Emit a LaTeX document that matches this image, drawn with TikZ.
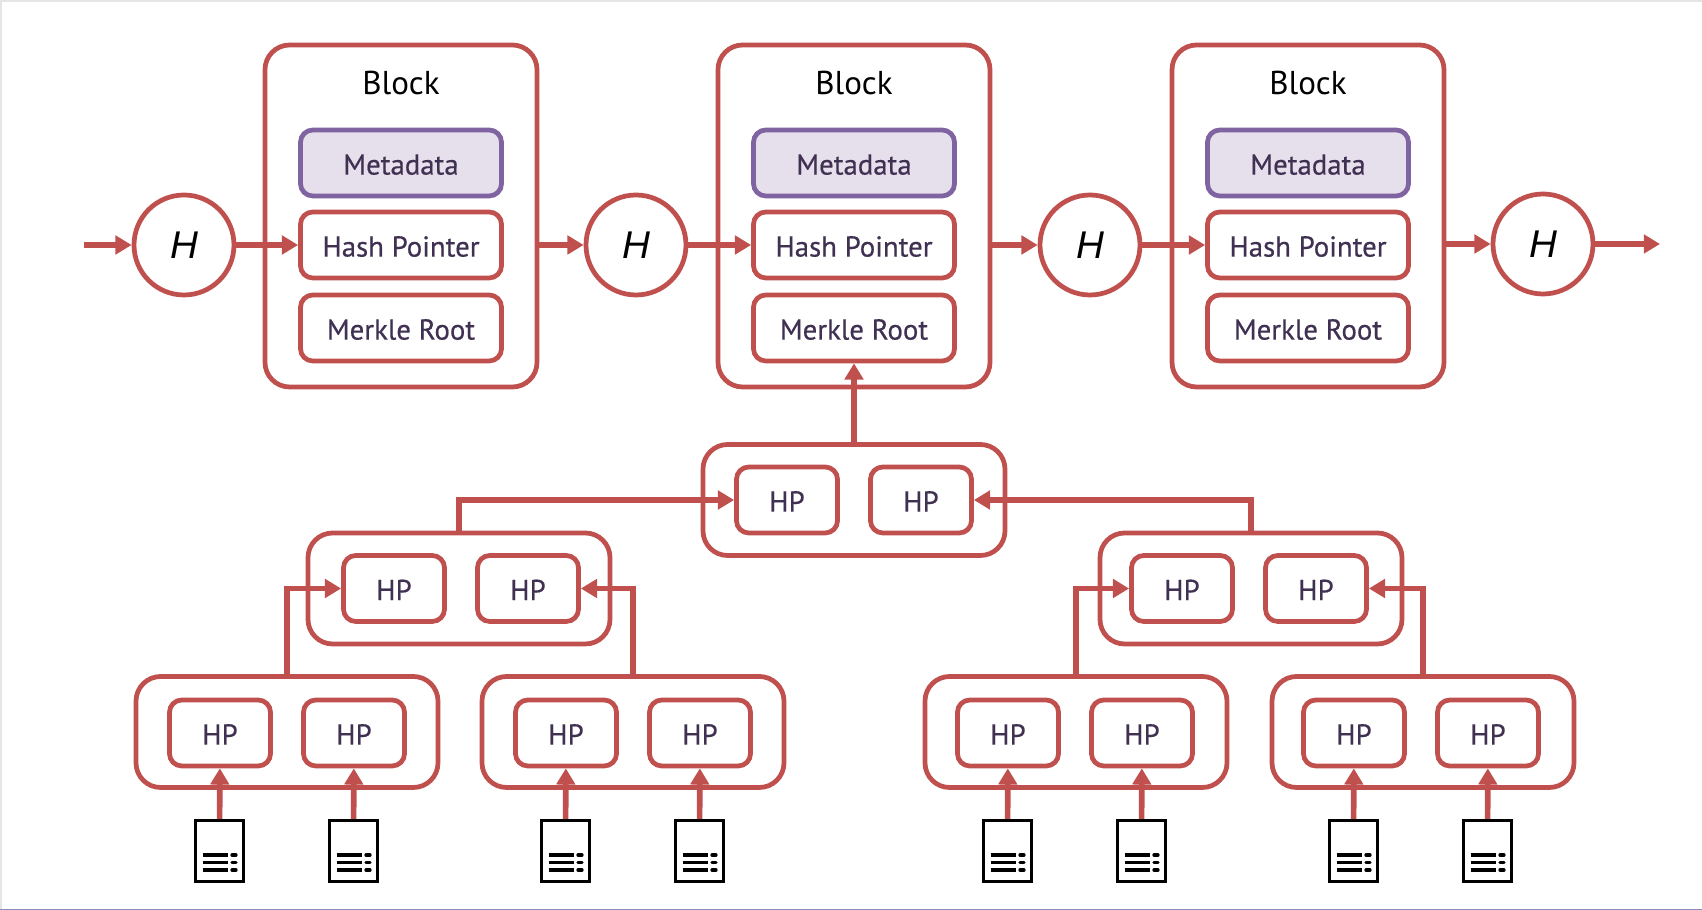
\documentclass[tikz,border=0pt]{standalone}
\usepackage{fontspec}
\setmainfont{PT Sans}
\newfontfamily\hashfont{Liberation Sans}
\newfontfamily\fieldfont[FakeBold=0.45]{PT Sans}
\usetikzlibrary{arrows.meta}
\definecolor{chainred}{HTML}{C0504D}
\definecolor{metaline}{HTML}{8064A2}
\definecolor{metafill}{HTML}{E6E0EC}
\definecolor{labeltext}{HTML}{403152}
\tikzset{
    blockbox/.style={draw=chainred, line width=1.35pt, rounded corners=7pt, minimum width=2.72cm, minimum height=3.42cm},
    fieldbox/.style={draw=chainred, line width=1.35pt, rounded corners=3.5pt, minimum width=2.01cm, minimum height=0.66cm, inner sep=0pt, text=labeltext, text height=6.6pt, text depth=0pt, font=\fieldfont\fontsize{8.2}{10}\selectfont},
    metabox/.style={fieldbox, draw=metaline, fill=metafill},
    hpbox/.style={fieldbox, minimum width=1.01cm},
    pairbox/.style={draw=chainred, line width=1.35pt, rounded corners=7pt, minimum width=3.02cm, minimum height=1.11cm},
    hashnode/.style={circle, draw=chainred, line width=1.35pt, minimum size=1cm, inner sep=0pt, fill=white, font=\hashfont\itshape\fontsize{11}{13}\selectfont},
    blocklabel/.style={font=\fontsize{9.4}{11}\selectfont},
    link/.style={draw=chainred, line width=1.6pt, -{Triangle[length=4.6pt, width=5.2pt]}},
    docicon/.style={draw=black, line width=0.9pt, minimum width=0.48cm, minimum height=0.61cm, inner sep=0pt, path picture={
        \foreach \rowy in {-0.04,-0.115,-0.19}{
            \draw[black, line width=0.95pt] ([xshift=0.07cm, yshift=\rowy cm]path picture bounding box.west) -- ++(0.25,0);
            \draw[black, line width=0.95pt, line cap=round] ([xshift=-0.115cm, yshift=\rowy cm]path picture bounding box.east) -- ++(0.04,0);
        }}},
}
\begin{document}
\begin{tikzpicture}
    \useasboundingbox (0,0) rectangle (17.02,-9.10);
    % screenshot edges
    \fill[gray!20] (0,0) rectangle (17.02,-0.02);
    \fill[gray!20] (0,0) rectangle (0.02,-9.10);
    \fill[gray!70!blue!70] (0,-9.09) rectangle (17.02,-9.10);
    % blocks
    \node[blockbox] (block1) at (4.01,-2.16) {};
    \node[blockbox] (block2) at (8.54,-2.16) {};
    \node[blockbox] (block3) at (13.08,-2.16) {};
    \node[blocklabel] (title1) at (4.01,-0.83) {Block};
    \node[blocklabel] (title2) at (8.54,-0.83) {Block};
    \node[blocklabel] (title3) at (13.08,-0.83) {Block};
    \node[metabox] (meta1) at (4.01,-1.63) {Metadata};
    \node[metabox] (meta2) at (8.54,-1.63) {Metadata};
    \node[metabox] (meta3) at (13.08,-1.63) {Metadata};
    \node[fieldbox] (hash1) at (4.01,-2.45) {Hash Pointer};
    \node[fieldbox] (hash2) at (8.54,-2.45) {Hash Pointer};
    \node[fieldbox] (hash3) at (13.08,-2.45) {Hash Pointer};
    \node[fieldbox] (root1) at (4.01,-3.28) {Merkle Root};
    \node[fieldbox] (root2) at (8.54,-3.28) {Merkle Root};
    \node[fieldbox] (root3) at (13.08,-3.28) {Merkle Root};
    % hash circles
    \node[hashnode] (H1) at (1.84,-2.45) {H};
    \node[hashnode] (H2) at (6.36,-2.45) {H};
    \node[hashnode] (H3) at (10.90,-2.45) {H};
    \node[hashnode] (H4) at (15.43,-2.44) {H};
    \coordinate (chainin) at (0.84,-2.45);
    \coordinate (chainout) at (16.60,-2.44);
    % chain
    \draw[link] (chainin) -- (H1);
    \draw[link] (H1) -- (hash1);
    \draw[link] (block1.east |- H2) -- (H2);
    \draw[link] (H2) -- (hash2);
    \draw[link] (block2.east |- H3) -- (H3);
    \draw[link] (H3) -- (hash3);
    \draw[link] (block3.east |- H4) -- (H4);
    \draw[link] (H4) -- (chainout);
    % merkle tree, top
    \node[pairbox] (top) at (8.54,-5.00) {};
    \node[hpbox] (topl) at (7.87,-5.00) {HP};
    \node[hpbox] (topr) at (9.21,-5.00) {HP};
    \node[pairbox] (midl) at (4.59,-5.885) {};
    \node[hpbox] (midll) at (3.94,-5.885) {HP};
    \node[hpbox] (midlr) at (5.28,-5.885) {HP};
    \node[pairbox] (midr) at (12.51,-5.885) {};
    \node[hpbox] (midrl) at (11.82,-5.885) {HP};
    \node[hpbox] (midrr) at (13.16,-5.885) {HP};
    % merkle tree, leaves
    \node[pairbox] (leafa) at (2.87,-7.32) {};
    \node[hpbox] (leafal) at (2.20,-7.33) {HP};
    \node[hpbox] (leafar) at (3.54,-7.33) {HP};
    \node[pairbox] (leafb) at (6.33,-7.32) {};
    \node[hpbox] (leafbl) at (5.66,-7.33) {HP};
    \node[hpbox] (leafbr) at (7.00,-7.33) {HP};
    \node[pairbox] (leafc) at (10.76,-7.32) {};
    \node[hpbox] (leafcl) at (10.08,-7.33) {HP};
    \node[hpbox] (leafcr) at (11.42,-7.33) {HP};
    \node[pairbox] (leafd) at (14.23,-7.32) {};
    \node[hpbox] (leafdl) at (13.54,-7.33) {HP};
    \node[hpbox] (leafdr) at (14.88,-7.33) {HP};
    % documents
    \node[docicon] (docal) at (2.195,-8.51) {};
    \node[docicon] (docar) at (3.535,-8.51) {};
    \node[docicon] (docbl) at (5.655,-8.51) {};
    \node[docicon] (docbr) at (6.995,-8.51) {};
    \node[docicon] (doccl) at (10.075,-8.51) {};
    \node[docicon] (doccr) at (11.415,-8.51) {};
    \node[docicon] (docdl) at (13.535,-8.51) {};
    \node[docicon] (docdr) at (14.875,-8.51) {};
    % tree links
    \draw[link] (top.north) -- (root2.south);
    \draw[link] (midl.north) |- (topl.west);
    \draw[link] (midr.north) |- (topr.east);
    \draw[link] (leafa.north) |- (midll.west);
    \draw[link] (leafb.north) |- (midlr.east);
    \draw[link] (leafc.north) |- (midrl.west);
    \draw[link] (leafd.north) |- (midrr.east);
    \draw[link] (docal) -- (leafal);
    \draw[link] (docar) -- (leafar);
    \draw[link] (docbl) -- (leafbl);
    \draw[link] (docbr) -- (leafbr);
    \draw[link] (doccl) -- (leafcl);
    \draw[link] (doccr) -- (leafcr);
    \draw[link] (docdl) -- (leafdl);
    \draw[link] (docdr) -- (leafdr);
\end{tikzpicture}
\end{document}
